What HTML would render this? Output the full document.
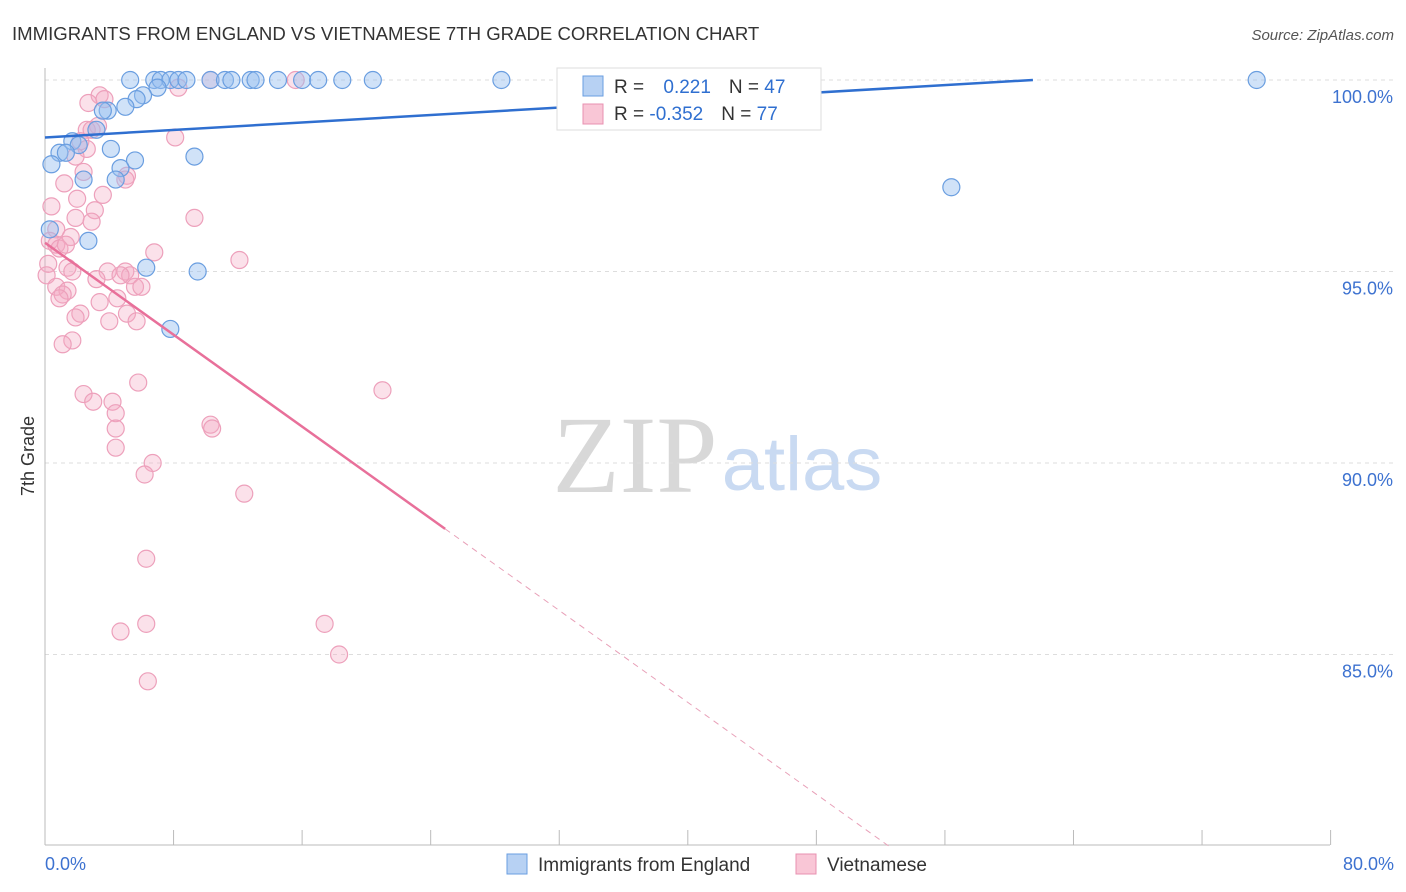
<!DOCTYPE html>
<html><head><meta charset="utf-8"><style>
body{margin:0;background:#fff;font-family:"Liberation Sans",sans-serif}
#wrap{position:relative;width:1406px;height:892px;overflow:hidden}
</style></head><body>
<div id="wrap">
<svg id="svg" width="1406" height="892" xmlns="http://www.w3.org/2000/svg">
<text x="12" y="40" font-size="18.6" fill="#333">IMMIGRANTS FROM ENGLAND VS VIETNAMESE 7TH GRADE CORRELATION CHART</text>
<text x="1394" y="40" font-size="15" fill="#555" font-style="italic" text-anchor="end">Source: ZipAtlas.com</text>
<text x="34" y="456" font-size="18" fill="#333" text-anchor="middle" transform="rotate(-90 34 456)">7th Grade</text>
<text x="635" y="492" font-size="110" fill="#d8d8d8" text-anchor="middle" font-family="Liberation Serif,serif">ZIP</text>
<text x="802" y="490" font-size="76" fill="#c9daf2" text-anchor="middle">atlas</text>
<g id="grid"></g><g id="marks"></g><g id="lines"></g>
<g>
<rect x="557" y="68" width="264" height="62" fill="#fff" stroke="#ddd"/>
<rect x="583" y="76" width="20" height="20" fill="#b7d1f3" stroke="#6a9ee0"/>
<rect x="583" y="104" width="20" height="20" fill="#f9c6d6" stroke="#e890b0"/>
<text x="614" y="93" font-size="19" fill="#333">R = <tspan fill="#2f6fd0" dx="14">0.221</tspan><tspan dx="18">N = </tspan><tspan fill="#2f6fd0">47</tspan></text>
<text x="614" y="120" font-size="19" fill="#333">R = <tspan fill="#2f6fd0">-0.352</tspan><tspan dx="18">N = </tspan><tspan fill="#2f6fd0">77</tspan></text>
</g>
<g>
<rect x="507" y="854" width="20" height="20" fill="#b7d1f3" stroke="#6a9ee0"/>
<text x="538" y="871" font-size="19" fill="#333">Immigrants from England</text>
<rect x="796" y="854" width="20" height="20" fill="#f9c6d6" stroke="#e890b0"/>
<text x="827" y="871" font-size="19" fill="#333">Vietnamese</text>
</g>
</svg>
</div>
<script>
const xTicks=[0,8,16,24,32,40,48,56,64,72,80];
const yTicks=[100,95,90,85];
const yTickLabels=["100.0%","95.0%","90.0%","85.0%"];
const xAxisLabels=["0.0%","80.0%"];
const blueX=[5.3,6.8,7.2,7.8,8.3,8.8,10.3,11.2,11.6,12.8,13.1,14.5,16.0,17.0,18.5,20.4,28.4,33.0,75.4,7.0,6.1,5.7,5.0,3.9,3.6,3.2,1.7,2.1,0.9,1.3,4.1,0.4,5.6,9.3,4.7,2.4,4.4,56.4,2.7,6.3,9.5,7.8,0.3];
const blueY=[100,100,100,100,100,100,100,100,100,100,100,100,100,100,100,100,100,100,100,99.8,99.6,99.5,99.3,99.2,99.2,98.7,98.4,98.3,98.1,98.1,98.2,97.8,97.9,98.0,97.7,97.4,97.4,97.2,95.8,95.1,95.0,93.5,96.1];
const pinkX=[10.3,15.6,8.3,3.4,2.7,3.7,3.3,2.6,2.9,2.2,2.6,1.9,8.1,2.4,5.1,1.2,5.0,3.6,2.0,0.4,9.3,3.1,1.9,2.9,0.7,1.6,0.3,0.7,0.9,1.3,6.8,12.1,0.2,1.4,1.7,3.9,5.0,5.3,0.1,4.7,3.2,0.7,1.4,5.6,6.0,1.1,4.5,3.4,0.9,2.2,1.9,5.1,4.0,5.7,1.7,1.1,5.8,21.0,2.4,3.0,4.2,4.4,4.4,10.3,10.4,4.4,6.7,6.2,12.4,6.3,6.3,4.7,17.4,18.3,6.4];
const pinkY=[100,100,99.8,99.6,99.4,99.5,98.8,98.7,98.7,98.4,98.2,98.0,98.5,97.6,97.5,97.3,97.4,97.0,96.9,96.7,96.4,96.6,96.4,96.3,96.1,95.9,95.8,95.7,95.6,95.7,95.5,95.3,95.2,95.1,95.0,95.0,95.0,94.9,94.9,94.9,94.8,94.6,94.5,94.6,94.6,94.4,94.3,94.2,94.3,93.9,93.8,93.9,93.7,93.7,93.2,93.1,92.1,91.9,91.8,91.6,91.6,91.3,90.9,91.0,90.9,90.4,90.0,89.7,89.2,87.5,85.8,85.6,85.8,85.0,84.3];
const blueTrend=[98.5,0.0244];
const pinkTrend=[95.75,-0.30];
const NS="http://www.w3.org/2000/svg";
const X=v=>45+v*16.07, Y=v=>80+(100-v)*38.3;
function mk(tag,attrs,parent){const e=document.createElementNS(NS,tag);for(const k in attrs)e.setAttribute(k,attrs[k]);parent.appendChild(e);return e;}
const grid=document.getElementById('grid'),marks=document.getElementById('marks'),lines=document.getElementById('lines');
yTicks.forEach((t,i)=>{
 const l=mk('line',{x1:45,x2:1394,y1:Y(t),y2:Y(t),stroke:'#ddd','stroke-dasharray':'4,4'},grid);
 
 
 const tx=mk('text',{x:1393,y:Y(t)+23,'font-size':18,fill:'#3d72d0','text-anchor':'end'},grid);tx.textContent=yTickLabels[i];
 
 
});
const ax=mk('line',{x1:45,x2:1330,y1:845,y2:845,stroke:'#bbb'},grid);


const ay=mk('line',{x1:45,x2:45,y1:68,y2:845,stroke:'#bbb'},grid);


xTicks.forEach(t=>{const l=mk('line',{x1:X(t),x2:X(t),y1:830,y2:845,stroke:'#bbb'},grid);
 
 });
const xl0=mk('text',{x:45,y:870,'font-size':18,fill:'#3d72d0'},grid);xl0.textContent=xAxisLabels[0];


const xl1=mk('text',{x:1394,y:870,'font-size':18,fill:'#3d72d0','text-anchor':'end'},grid);xl1.textContent=xAxisLabels[1];


pinkX.forEach((x,i)=>{const c=mk('circle',{cx:X(x),cy:Y(pinkY[i]),r:8.5,fill:'rgba(244,170,196,0.35)',stroke:'#eda0bb','stroke-width':1.2},marks);
 
 });
blueX.forEach((x,i)=>{const c=mk('circle',{cx:X(x),cy:Y(blueY[i]),r:8.5,fill:'rgba(150,190,240,0.45)',stroke:'#6a9ee0','stroke-width':1.2},marks);
 
 });
const bEnd=(100-blueTrend[0])/blueTrend[1];
const bl=mk('line',{x1:X(0),y1:Y(blueTrend[0]),x2:X(bEnd),y2:Y(100),stroke:'#2f6fd0','stroke-width':2.5},lines);


const pf=(x)=>pinkTrend[0]+pinkTrend[1]*x;
const pl=mk('line',{x1:X(0),y1:Y(pf(0)),x2:X(24.9),y2:Y(pf(24.9)),stroke:'#e8709a','stroke-width':2.5},lines);


const pd=mk('line',{x1:X(24.9),y1:Y(pf(24.9)),x2:X(52.6),y2:Y(pf(52.6)),stroke:'#e8a0b8','stroke-width':1,'stroke-dasharray':'6,5'},lines);


</script>
</body></html>
